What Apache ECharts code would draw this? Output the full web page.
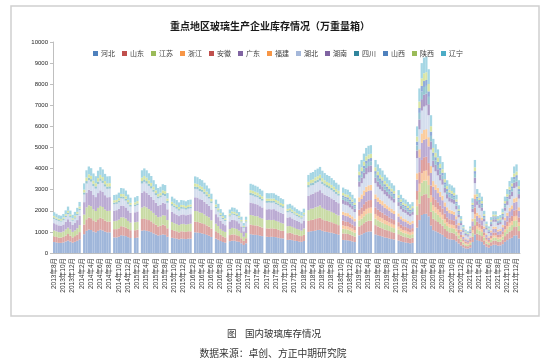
<!DOCTYPE html>
<html><head><meta charset="utf-8">
<script src="https://cdn.jsdelivr.net/npm/echarts@6/dist/echarts.min.js"></script>
<style>html,body{margin:0;padding:0;background:#fff}#c{width:554px;height:364px}</style>
</head><body><div id="c"></div>
<script>
// half-month periods starting 2013年8月
const startYear = 2013, startMonth = 8, periodCount = 202;
const tickLabels = ['2013年8月','2013年10月','2013年12月','2014年2月','2014年4月','2014年6月','2014年8月','2014年10月','2014年12月',
'2015年2月','2015年4月','2015年6月','2015年8月','2015年10月','2015年12月','2016年2月','2016年4月','2016年6月','2016年8月','2016年10月','2016年12月',
'2017年2月','2017年4月','2017年6月','2017年8月','2017年10月','2017年12月','2018年2月','2018年4月','2018年6月','2018年8月','2018年10月','2018年12月',
'2019年2月','2019年4月','2019年6月','2019年8月','2019年10月','2019年12月','2020年2月','2020年4月','2020年6月','2020年8月','2020年10月','2020年12月',
'2021年2月','2021年4月','2021年6月','2021年8月','2021年10月','2021年12月'];
const periods = [];
for (let k = 0; k < periodCount; k++) {
  const mi = startMonth - 1 + Math.floor(k / 2);
  const y = startYear + Math.floor(mi / 12), m = mi % 12 + 1;
  periods.push(k % 2 === 0 ? y + '年' + m + '月' : y + '年' + m + '月下');
}
const regions = ['河北','山东','江苏','浙江','安徽','广东','福建','湖北','湖南','四川','山西','陕西','辽宁'];
const Z = [0,0,0,0,0,0,0,0,0,0,0,0,0,0,0,0,0,0,0,0,0,0,0,0,0];

const hebei = [520,500,480,480,500,550,590,540,490,530,
580,650,null,890,1050,1110,1090,1020,980,1050,
1100,1070,1010,980,980,null,740,740,770,840,
820,800,750,710,null,710,730,null,1060,1080,
1050,1030,990,930,880,830,850,880,860,770,
null,720,700,680,650,680,670,660,680,680,
null,980,970,950,930,900,860,820,760,null,
680,630,570,520,490,null,560,580,580,550,
530,460,380,460,null,890,870,860,850,820,
800,null,770,760,770,760,750,720,700,690,
null,620,630,610,580,570,540,530,570,null,
1000,1030,1040,1060,1090,1100,1050,1020,1000,980,
960,930,900,870,null,620,610,600,580,550,
520,null,840,880,940,990,1020,1020,null,880,
840,810,780,740,720,690,660,640,null,590,
550,520,500,480,460,480,null,1200,1560,1800,
1850,1860,1740,1300,1080,1030,980,920,860,760,
690,650,640,620,550,450,350,270,220,210,
250,520,880,610,570,530,400,300,250,340,
390,390,350,360,420,530,610,680,720,820,
840,690];
const shandong = [270,260,250,250,260,280,310,280,250,270,
300,340,null,460,550,570,560,530,510,550,
570,550,530,510,510,null,390,390,400,430,
430,410,390,370,null,370,380,null,550,560,
550,530,510,480,460,430,440,460,450,400,
null,370,360,350,330,350,350,340,350,350,
null,510,500,490,480,470,450,430,400,null,
350,320,290,270,250,null,290,300,300,290,
270,240,200,240,null,460,450,450,440,430,
410,null,400,400,400,400,390,380,360,360,
null,320,330,320,300,290,280,270,290,null,
520,530,540,550,560,570,550,530,520,510,
500,480,470,450,null,310,310,300,290,280,
260,null,420,440,470,500,510,510,null,440,
420,400,390,370,360,350,330,320,null,300,
280,260,250,240,230,240,null,600,780,900,
930,930,870,650,540,520,490,460,430,380,
350,330,320,310,280,230,180,130,110,110,
130,260,440,310,290,270,200,150,130,170,
200,200,180,180,210,270,310,340,360,410,
420,350];
const jiangsu = [280,270,260,250,260,290,300,290,260,270,
290,330,null,470,560,580,570,520,500,540,
560,560,520,500,510,null,380,400,410,420,
440,420,380,360,null,380,370,null,540,570,
560,520,500,490,450,440,430,450,460,390,
null,380,350,340,340,340,360,350,340,360,
null,500,510,480,490,460,440,440,390,null,
360,330,280,260,260,null,280,310,290,300,
260,250,190,250,null,450,460,440,450,420,
420,null,390,410,390,410,380,390,370,350,
null,330,320,310,310,280,290,260,300,null,
510,540,530,560,550,580,540,540,510,520,
490,490,460,460,null,220,210,210,200,190,
180,null,290,310,330,350,360,360,null,310,
290,280,270,260,250,240,230,220,null,210,
190,180,180,170,160,170,null,420,550,630,
650,650,610,460,380,360,340,320,300,270,
240,230,220,220,190,160,120,90,80,70,
90,180,310,210,200,190,140,100,90,120,
140,140,120,130,150,190,210,240,250,290,
290,240];
const zhejiang = [...Z,...Z,...Z,...Z,...Z,
160,150,150,140,140,
130,null,210,220,240,250,250,260,null,220,
210,200,200,190,180,170,170,160,null,150,
140,130,130,120,120,120,null,300,390,450,
460,470,440,330,270,260,250,230,220,190,
170,160,160,160,140,110,90,70,60,50,
60,130,220,150,140,130,100,80,60,80,
100,100,90,90,100,130,150,170,180,210,
210,170];
const anhui = [...Z,...Z,...Z,...Z,...Z,
220,210,210,200,190,
180,null,290,310,330,350,360,360,null,310,
290,280,270,260,250,240,230,220,null,210,
190,180,180,170,160,170,null,420,550,630,
650,650,610,460,380,360,340,320,300,270,
240,230,220,220,190,160,120,90,80,70,
90,180,310,210,200,190,140,100,90,120,
140,140,120,130,150,190,210,240,250,290,
290,240];
const guangdong = [340,330,320,320,330,360,400,360,330,350,
390,440,null,590,700,740,720,680,660,700,
740,710,680,650,650,null,500,500,510,560,
550,530,500,470,null,470,490,null,710,720,
700,680,660,620,590,550,570,590,580,510,
null,480,470,450,430,450,450,440,450,450,
null,650,650,630,620,600,580,550,510,null,
450,420,380,350,320,null,370,390,390,370,
350,310,260,310,null,590,580,570,560,550,
530,null,510,510,510,510,500,480,470,460,
null,410,420,400,390,380,360,350,380,null,
670,680,690,710,720,730,700,680,670,650,
640,620,600,580,null,280,270,270,260,250,
230,null,380,400,420,450,460,460,null,400,
380,360,350,330,320,310,300,290,null,270,
250,240,230,220,210,220,null,540,700,810,
830,840,780,590,490,460,440,410,390,340,
310,290,290,280,250,200,160,120,100,90,
110,230,400,270,260,240,180,130,110,150,
180,180,160,160,190,240,270,310,320,370,
380,310];
const fujian = [...Z,...Z,...Z,...Z,...Z,
150,150,150,140,140,
130,null,210,220,240,250,250,260,null,220,
210,200,200,190,180,170,170,160,null,150,
140,130,130,120,120,120,null,300,390,450,
460,470,440,330,270,260,250,230,220,190,
170,160,160,150,140,110,90,70,50,50,
60,130,220,150,140,130,100,70,60,90,
100,100,90,90,110,130,150,170,180,200,
210,170];
const hubei = [210,200,200,190,200,220,240,220,200,210,
240,270,null,360,430,450,440,420,400,430,
450,430,410,400,400,null,300,300,310,340,
340,320,310,290,null,290,300,null,430,440,
430,420,400,380,360,340,350,360,350,310,
null,290,290,280,260,280,270,270,280,280,
null,400,390,390,380,370,350,340,310,null,
280,260,230,210,200,null,230,240,240,230,
210,190,160,190,null,360,360,350,340,340,
320,null,310,310,310,310,300,300,290,280,
null,250,260,250,240,230,220,220,230,null,
410,420,420,430,440,450,430,420,410,400,
390,380,370,360,null,370,370,360,350,330,
310,null,500,530,560,590,610,610,null,530,
500,490,470,440,430,410,400,380,null,350,
330,310,300,290,280,290,null,720,940,1080,
1110,1120,1040,780,650,620,590,550,520,460,
410,390,380,370,330,270,210,160,130,130,
150,310,530,370,340,320,240,180,150,200,
230,230,210,220,250,320,370,410,430,490,
500,410];
const hunan = [...Z,...Z,...Z,...Z,...Z,
190,180,180,170,170,
160,null,250,260,280,300,300,310,null,260,
250,240,230,220,210,210,200,190,null,180,
170,160,150,150,140,140,null,360,470,540,
560,560,520,390,320,310,290,280,260,230,
210,200,190,190,170,140,100,80,70,60,
80,160,260,180,170,160,120,90,80,100,
120,120,100,110,130,160,180,200,220,250,
250,210];
const sichuan = [60,60,50,50,60,60,70,60,50,60,
60,70,null,100,120,120,120,110,110,120,
120,120,110,110,110,null,80,80,90,90,
90,90,80,80,null,80,80,null,120,120,
120,110,110,100,100,90,90,100,100,90,
null,80,80,80,70,80,70,70,80,80,
null,110,110,110,100,100,100,90,80,null,
80,70,60,60,50,null,60,60,60,60,
60,50,40,50,null,100,100,100,90,90,
90,null,90,80,90,80,80,80,80,80,
null,70,70,70,60,60,60,60,60,null,
110,110,120,120,120,120,120,110,110,110,
110,100,100,100,null,120,120,120,120,110,
100,null,170,180,190,200,200,200,null,180,
170,160,160,150,140,140,130,130,null,120,
110,100,100,100,90,100,null,240,310,360,
370,370,350,260,220,210,200,180,170,150,
140,130,130,120,110,90,70,50,40,40,
50,100,180,120,110,110,80,60,50,70,
80,80,70,70,80,110,120,140,140,160,
170,140];
const shanxi = [...Z,...Z,...Z,...Z,...Z,
90,90,90,90,80,
80,null,130,130,140,150,150,150,null,130,
130,120,120,110,110,100,100,100,null,90,
80,80,80,70,70,70,null,180,230,270,
280,280,260,200,160,150,150,140,130,110,
100,100,100,90,80,70,50,40,30,30,
40,80,130,90,90,80,60,50,40,50,
60,60,50,50,60,80,90,100,110,120,
130,100];
const shaanxi = [80,70,70,70,70,80,90,80,70,80,
90,100,null,130,160,160,160,150,150,160,
160,160,150,150,150,null,110,110,110,120,
120,120,110,100,null,100,110,null,160,160,
160,150,150,140,130,120,130,130,130,110,
null,110,100,100,100,100,100,100,100,100,
null,150,140,140,140,130,130,120,110,null,
100,90,80,80,70,null,80,90,90,80,
80,70,60,70,null,130,130,130,130,120,
120,null,110,110,110,110,110,110,100,100,
null,90,90,90,90,80,80,80,80,null,
150,150,150,160,160,160,160,150,150,150,
140,140,130,130,null,120,120,120,120,110,
100,null,170,180,190,200,200,200,null,180,
170,160,160,150,140,140,130,130,null,120,
110,100,100,100,90,100,null,240,310,360,
370,370,350,260,220,210,200,180,170,150,
140,130,130,120,110,90,70,50,40,40,
50,100,180,120,110,110,80,60,50,70,
80,80,70,70,80,110,120,140,140,160,
170,140];
const liaoning = [170,170,160,160,170,180,200,180,160,180,
190,220,null,300,350,370,360,340,330,350,
370,360,340,330,330,null,250,250,260,280,
270,270,250,240,null,240,240,null,350,360,
350,340,330,310,290,280,280,290,290,260,
null,240,230,230,220,230,220,220,230,230,
null,330,320,320,310,300,290,270,250,null,
230,210,190,170,160,null,190,190,190,180,
180,150,130,150,null,300,290,290,280,270,
270,null,260,250,260,250,250,240,230,230,
null,210,210,200,190,190,180,180,190,null,
330,340,350,350,360,370,350,340,330,330,
320,310,300,290,null,250,240,240,230,220,
210,null,340,350,380,400,410,410,null,350,
340,320,310,300,290,280,260,260,null,240,
220,210,200,190,180,190,null,480,620,720,
740,740,700,520,430,410,390,370,340,300,
280,260,260,250,220,180,140,110,90,80,
100,210,350,240,230,210,160,120,100,140,
160,160,140,140,170,210,240,270,290,330,
340,280];

const seriesValues = [hebei, shandong, jiangsu, zhejiang, anhui, guangdong, fujian, hubei, hunan, sichuan, shanxi, shaanxi, liaoning];
const barColors = ['#9FB6DA','#DCA5A3','#C9DBA5','#F8C9A3','#DE9F9D','#BBABD3','#FBCD9E','#D5DEEE','#AC9CC8','#97C6D2','#90ABD9','#D8E5A6','#A5D6E4'];
const legendColors = ['#4F81BD','#C0504D','#9BBB59','#F79646','#C0504D','#8064A2','#F79646','#A5B8DA','#7F63A1','#31859C','#4F81BD','#9BBB59','#4BACC6'];

const chart = echarts.init(document.getElementById('c'), null, {renderer: 'canvas'});
const FONT = '"Liberation Sans", "Noto Sans CJK SC", sans-serif';
chart.setOption({
  animation: false,
  backgroundColor: '#fff',
  title: {
    text: '重点地区玻璃生产企业库存情况（万重量箱）',
    left: 265, top: 16, textAlign: 'center',
    textStyle: {fontSize: 10, fontWeight: 'bold', color: '#1a1a1a', fontFamily: '"Noto Sans CJK SC", sans-serif'}
  },
  legend: {
    left: 88, top: 45, itemWidth: 5, itemHeight: 5, itemGap: 7, icon: 'rect',
    textStyle: {fontSize: 7, color: '#404040', fontFamily: '"Noto Sans CJK SC", sans-serif', padding: [0,0,0,-2]},
    data: regions.map((n, i) => ({name: n, itemStyle: {color: legendColors[i], opacity: 1}}))
  },
  grid: {left: 53, right: 34, top: 42, bottom: 111, containLabel: false},
  xAxis: {
    type: 'category', data: periods, boundaryGap: true,
    axisLine: {lineStyle: {color: '#bfbfbf', width: 1}},
    axisTick: {interval: 3, alignWithLabel: true, length: 3, lineStyle: {color: '#bfbfbf'}},
    axisLabel: {interval: 3, rotate: 90, fontSize: 6.5, color: '#333', margin: 5, fontFamily: FONT,
      formatter: (v, idx) => tickLabels[Math.round(idx / 4)] || ''}
  },
  yAxis: {
    type: 'value', min: 0, max: 10000, interval: 1000,
    axisLine: {show: true, lineStyle: {color: '#bfbfbf'}},
    axisTick: {show: true, length: 3, lineStyle: {color: '#bfbfbf'}},
    splitLine: {show: false},
    axisLabel: {fontSize: 6, color: '#262626', margin: 5, fontFamily: FONT, formatter: v => String(v)}
  },
  series: regions.map((n, i) => ({
    name: n, type: 'bar', stack: 'total', data: seriesValues[i],
    barCategoryGap: '0%', itemStyle: {color: barColors[i]},
    emphasis: {disabled: true}
  })),
  graphic: [
    {type: 'rect', shape: {x: 11, y: 6, width: 528, height: 310}, style: {fill: 'none', stroke: '#d0d0d0', lineWidth: 1.5}, silent: true, z: -1},
    {type: 'text', x: 227, y: 333, style: {text: '图', fontSize: 9.5, fill: '#333', fontFamily: '"Noto Sans CJK SC", sans-serif', align: 'left', verticalAlign: 'middle'}},
    {type: 'text', x: 245, y: 333, style: {text: '国内玻璃库存情况', fontSize: 9.5, fill: '#333', fontFamily: '"Noto Sans CJK SC", sans-serif', align: 'left', verticalAlign: 'middle'}},
    {type: 'text', x: 273, y: 353, style: {text: '数据来源：卓创、方正中期研究院', fontSize: 9.8, fill: '#333', fontFamily: '"Noto Sans CJK SC", sans-serif', align: 'center', verticalAlign: 'middle'}}
  ]
});
</script>
</body></html>
